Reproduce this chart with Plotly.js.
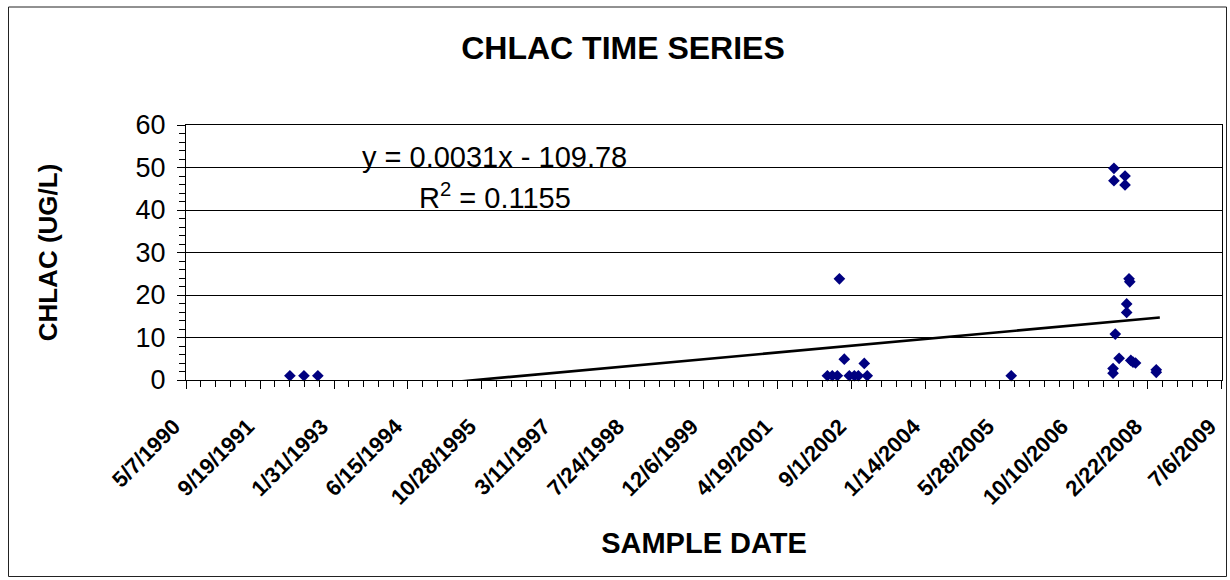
<!DOCTYPE html>
<html>
<head>
<meta charset="utf-8">
<script src="https://cdn.plot.ly/plotly-3.0.1.min.js"></script>
<style>
  html, body { margin: 0; padding: 0; background: #fff; }
  #chart { width: 1230px; height: 580px; }
</style>
</head>
<body>
<div id="chart"></div>
<script>
// Sample dates and CHLAC values (ug/L)
const sampleDates = [
  '1992-04-08', '1992-07-12', '1992-10-14',
  '2002-03-19', '2002-04-21', '2002-05-25', '2002-06-08', '2002-07-11',
  '2002-08-14', '2002-09-17', '2002-10-14', '2002-11-23', '2002-12-13',
  '2005-08-12',
  '2007-07-01', '2007-07-01', '2007-07-07', '2007-07-07', '2007-07-16',
  '2007-08-11', '2007-09-20', '2007-09-20', '2007-10-01', '2007-10-01',
  '2007-10-17', '2007-10-22', '2007-10-29', '2007-11-13', '2007-11-30',
  '2008-04-18', '2008-04-18'
];
const chlacValues = [
  1.0, 1.0, 1.0,
  1.0, 1.0, 1.0, 23.8, 4.9,
  1.0, 1.0, 1.0, 3.9, 1.0,
  1.0,
  2.7, 1.6, 49.8, 46.9, 10.8,
  5.1, 48.0, 45.9, 17.9, 15.9,
  23.8, 23.1, 4.6, 4.2, 4.0,
  2.4, 1.8
];
// Linear trendline end points
const trendDates = ['1992-04-08', '2008-05-12'];
const trendValues = [-4.0, 14.7];

const equationText = 'y = 0.0031x - 109.78';
const r2Text = 'R<sup>2</sup> = 0.1155';

const titleText = 'CHLAC TIME SERIES';
const xTitleText = 'SAMPLE DATE';
const yTitleText = 'CHLAC (UG/L)';

const DAY = 86400000;
const FONT = 'Arial, "Liberation Sans", sans-serif';

const traces = [
  {
    x: sampleDates, y: chlacValues, type: 'scatter', mode: 'markers',
    marker: { symbol: 'diamond', size: 9, color: '#000080', line: { width: 0 } },
    cliponaxis: false, hoverinfo: 'x+y'
  },
  {
    x: trendDates, y: trendValues, type: 'scatter', mode: 'lines',
    line: { color: '#000000', width: 2.6 }, hoverinfo: 'skip'
  }
];

const layout = {
  width: 1230, height: 580,
  margin: { l: 186, r: 8, t: 125, b: 200, pad: 0 },
  paper_bgcolor: '#ffffff', plot_bgcolor: '#ffffff',
  showlegend: false,
  font: { family: FONT, color: '#000000' },
  title: {
    text: '<b>' + titleText + '</b>',
    font: { family: FONT, size: 32, color: '#000000' },
    x: 623 / 1230, xref: 'container', xanchor: 'center',
    y: 1 - 48 / 580, yref: 'container', yanchor: 'middle'
  },
  xaxis: {
    type: 'date',
    range: ['1990-05-07', '2009-07-06 04:00'],
    tick0: '1990-05-07', dtick: 500 * DAY,
    tickformat: '%-m/%-d/%Y',
    tickangle: -45,
    tickfont: { family: FONT, size: 22, color: '#000000', weight: 'bold' },
    ticks: 'outside', ticklen: 8, tickwidth: 1, tickcolor: '#000000',
    ticklabelstandoff: 16,
    ticklabelshift: -12,
    minor: { dtick: 100 * DAY, tick0: '1990-05-07', ticks: 'outside', ticklen: 6, tickwidth: 1, tickcolor: '#000000', showgrid: false },
    showline: true, linecolor: '#000000', linewidth: 1, mirror: true,
    showgrid: false, zeroline: false,
    title: { text: '<b>' + xTitleText + '</b>', font: { family: FONT, size: 29, color: '#000000' }, standoff: 24 }
  },
  yaxis: {
    range: [0, 60], dtick: 10, tick0: 0,
    tickfont: { family: FONT, size: 27, color: '#000000' },
    ticks: 'outside', ticklen: 8, tickwidth: 1, tickcolor: '#000000',
    ticklabelstandoff: 6,
    minor: { dtick: 2, ticks: 'outside', ticklen: 6, tickwidth: 1, tickcolor: '#000000', showgrid: false },
    showline: true, linecolor: '#000000', linewidth: 1, mirror: true,
    showgrid: true, gridcolor: '#000000', gridwidth: 1, zeroline: false,
    title: { text: '<b>' + yTitleText + '</b>', font: { family: FONT, size: 26, color: '#000000' }, standoff: 70 }
  },
  annotations: [
    { text: equationText, xref: 'paper', yref: 'paper', x: (494 - 186) / 1036, y: (380 - 157) / 255,
      xanchor: 'center', yanchor: 'middle', showarrow: false, font: { family: FONT, size: 29, color: '#000000' } },
    { text: r2Text, xref: 'paper', yref: 'paper', x: (495 - 186) / 1036, y: (380 - 196) / 255,
      xanchor: 'center', yanchor: 'middle', showarrow: false, font: { family: FONT, size: 29, color: '#000000' } }
  ],
  shapes: [
    { type: 'rect', xref: 'paper', yref: 'paper', layer: 'below',
      x0: (8.5 - 186) / 1036, x1: (1226.5 - 186) / 1036,
      y0: (380 - 576.5) / 255, y1: (380 - 7) / 255,
      line: { color: '#222222', width: 1 }, fillcolor: 'rgba(0,0,0,0)' }
  ]
};

Plotly.newPlot('chart', traces, layout, { displayModeBar: false, staticPlot: true });
</script>
</body>
</html>
